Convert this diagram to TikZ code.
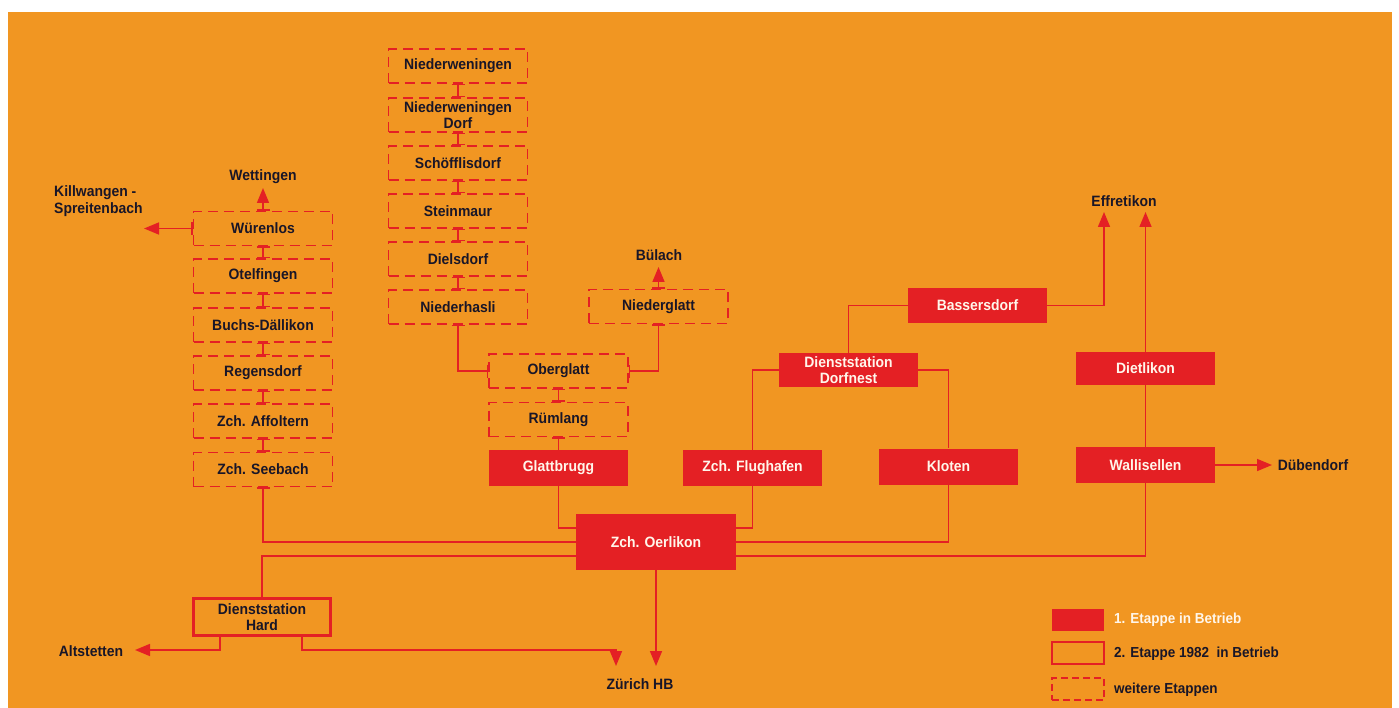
\documentclass[tikz,border=0pt]{standalone}
\usepackage{fontspec}
\setmainfont{Liberation Sans}[FakeStretch=0.93]
\usetikzlibrary{arrows.meta}
\definecolor{bg}{RGB}{241,150,34}
\definecolor{rd}{RGB}{228,32,36}
\definecolor{ink}{RGB}{25,22,40}
\definecolor{wt}{RGB}{255,246,235}
\begin{document}
\begin{tikzpicture}[x=1pt,y=-1pt,
  lbl/.style={font=\fontsize{15}{17}\selectfont\bfseries, text=ink, inner sep=2pt, align=center},
  st/.style={rectangle, minimum width=139pt, minimum height=34pt, inner sep=0pt, align=center, font=\fontsize{15}{16.5}\selectfont\bfseries},
  one/.style={st, fill=rd, text=wt},
  two/.style={st, draw=rd, line width=2.5pt, text=ink},
  more/.style={st, draw=rd, line width=1.5pt, dash pattern=on 10pt off 6pt, text=ink},
  conn/.style={draw=rd, line width=1.6pt},
  barr/.style={conn, {Bar[width=13pt]}-{Bar[width=13pt]}},
  bar1/.style={conn, {Bar[width=13pt]}-},
  ext/.style={conn, -{Triangle[width=12pt,length=15pt]}},
  barext/.style={conn, {Bar[width=13pt]}-{Triangle[width=12pt,length=15pt]}},
  legbox/.style={rectangle, minimum width=52pt, minimum height=22pt, inner sep=0pt},
  legtxt/.style={anchor=west, font=\fontsize{14.5}{16}\selectfont\bfseries, inner sep=0pt}
]
\useasboundingbox (0,0) rectangle (1399,708);
\fill[white] (0,0) rectangle (1399,708);
\fill[bg] (8,12) rectangle (1392,708);

% left column
\node[more] (wuer) at (263,228.5) {Würenlos};
\node[more] (otel) at (263,276) {Otelfingen};
\node[more] (buchs) at (263,325) {Buchs-Dällikon};
\node[more] (regen) at (263,373) {Regensdorf};
\node[more] (affo) at (263,421) {Zch. Affoltern};
\node[more] (seeb) at (263,469.5) {Zch. Seebach};

% middle column
\node[more] (nw) at (458,66) {Niederweningen};
\node[more] (nwd) at (458,115) {Niederweningen\\Dorf};
\node[more] (scho) at (458,163) {Schöfflisdorf};
\node[more] (stein) at (458,211) {Steinmaur};
\node[more] (diel) at (458,259) {Dielsdorf};
\node[more] (nhas) at (458,307) {Niederhasli};

\node[more] (nglatt) at (658.5,306.5) {Niederglatt};
\node[more] (oberg) at (558.5,371) {Oberglatt};
\node[more] (ruem) at (558.5,419.5) {Rümlang};

% stage 1
\node[one, minimum height=36pt] (glatt) at (558.5,468) {Glattbrugg};
\node[one, minimum width=160pt, minimum height=56pt] (oerl) at (656,542) {Zch. Oerlikon};
\node[one, minimum height=36pt] (flug) at (752.5,468) {Zch. Flughafen};
\node[one] (dorf) at (848.5,370) {Dienststation\\Dorfnest};
\node[one, minimum height=35pt] (bass) at (977.5,305.5) {Bassersdorf};
\node[one, minimum height=36pt] (klot) at (948.5,466.5) {Kloten};
\node[one, minimum height=33pt] (diet) at (1145.5,368.5) {Dietlikon};
\node[one, minimum height=36pt] (wall) at (1145.5,465) {Wallisellen};

% stage 2
\node[two, minimum width=137pt, minimum height=37pt] (hard) at (262,617) {Dienststation\\Hard};

% destination labels
\node[lbl] (wett) at (263,177) {Wettingen};
\node[lbl, anchor=west, align=left] (kill) at (52,201) {Killwangen -\\Spreitenbach};
\node[lbl] (buel) at (659,255) {Bülach};
\node[lbl] (eff) at (1124,201) {Effretikon};
\node[lbl] (dueb) at (1313,465) {Dübendorf};
\node[lbl] (alt) at (91,651) {Altstetten};
\node[lbl] (zhb) at (640,684) {Zürich HB};

\coordinate (wettA) at (263,188);
\coordinate (killA) at (144,228.5);
\coordinate (buelA) at (658.5,267);
\coordinate (effA) at (1104,212);
\coordinate (effB) at (1145.5,212);
\coordinate (duebA) at (1272,465);
\coordinate (altA) at (135,650);
\coordinate (zhbA) at (616,666);
\coordinate (zhbB) at (656,666);

% left column chain
\draw[barr] (wuer.south) -- (otel.north);
\draw[barr] (otel.south) -- (buchs.north);
\draw[barr] (buchs.south) -- (regen.north);
\draw[barr] (regen.south) -- (affo.north);
\draw[barr] (affo.south) -- (seeb.north);
\draw[barext] (wuer.north) -- (wettA);
\draw[barext] (wuer.west) -- (killA);
\draw[bar1] (seeb.south) |- (oerl.west);

% middle column chain
\draw[barr] (nw.south) -- (nwd.north);
\draw[barr] (nwd.south) -- (scho.north);
\draw[barr] (scho.south) -- (stein.north);
\draw[barr] (stein.south) -- (diel.north);
\draw[barr] (diel.south) -- (nhas.north);
\draw[barr] (nhas.south) |- (oberg.west);
\draw[barr] (oberg.east) -| (nglatt.south);
\draw[barext] (nglatt.north) -- (buelA);
\draw[barr] (oberg.south) -- (ruem.north);
\draw[bar1] (ruem.south) -- (glatt.north);

% stage 1 network
\draw[conn] (glatt.south) |- ([yshift=14pt]oerl.west);
\draw[conn] (flug.south) |- ([yshift=14pt]oerl.east);
\draw[conn] (flug.north) |- (dorf.west);
\draw[conn] (dorf.north) |- (bass.west);
\draw[conn] (dorf.east) -| (klot.north);
\draw[conn] (klot.south) |- (oerl.east);
\draw[conn] (wall.south) |- ([yshift=-14pt]oerl.east);
\draw[conn] (wall.north) -- (diet.south);
\draw[ext] (diet.north) -- (effB);
\draw[ext] (bass.east) -| (effA);
\draw[ext] (wall.east) -- (duebA);
\draw[ext] (oerl.south) -- (zhbB);

% Hard
\draw[conn] ([yshift=-14pt]oerl.west) -| (hard.north);
\draw[ext] ([xshift=-42pt]hard.south) |- (altA);
\draw[ext] ([xshift=40pt]hard.south) -- ++(0,13) -| (zhbA);

% legend
\node[legbox, fill=rd] (l1) at (1078,620) {};
\node[legbox, draw=rd, line width=1.2pt] (l2) at (1078,653) {};
\node[legbox, draw=rd, line width=1.5pt, dash pattern=on 7pt off 4pt] (l3) at (1078,689) {};
\node[legtxt, text=wt] (t1) at (1114,620) {1. Etappe in Betrieb};
\node[legtxt, text=ink] (t2) at (1114,654) {2. Etappe 1982\ \ in Betrieb};
\node[legtxt, text=ink] (t3) at (1114,690) {weitere Etappen};
\end{tikzpicture}
\end{document}
